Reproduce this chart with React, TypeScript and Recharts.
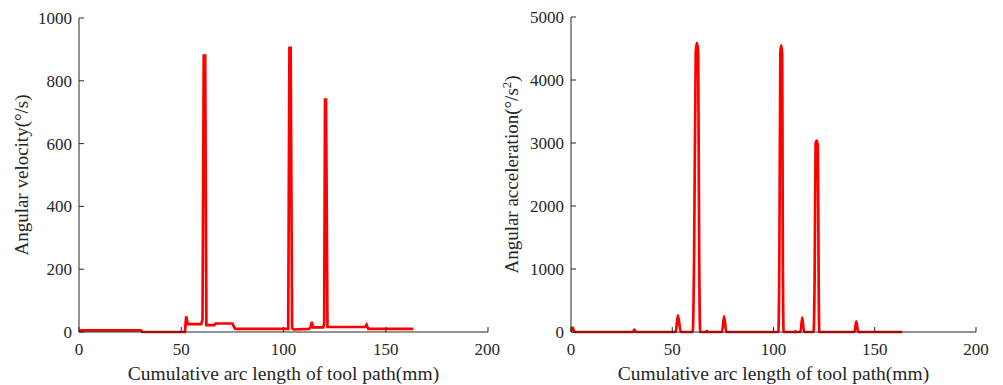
import React from "react";
import { LineChart, Line, XAxis, YAxis, Label } from "recharts";

const xTicks = [0, 50, 100, 150, 200];
const velTicks = [0, 200, 400, 600, 800, 1000];
const accTicks = [0, 1000, 2000, 3000, 4000, 5000];

const velArc = [0, 0.6, 30.2, 31.0, 51.8, 52.4, 53.2, 59.8, 60.4, 61.0, 61.7, 62.3, 66.2, 66.7, 75.0, 76.4, 102.3, 102.9, 103.5, 104.2, 104.9, 112.5, 113.2, 113.8, 114.5, 119.4, 119.9, 120.3, 120.8, 121.5, 140.0, 140.6, 141.5, 163.5];
const velValues = [2, 5, 5, 0, 0, 50, 25, 25, 40, 880, 880, 22, 22, 27, 27, 10, 10, 905, 905, 12, 8, 10, 14, 32, 15, 15, 25, 740, 740, 16, 16, 23, 10, 10];

const accArc = [0, 0.8, 1.8, 30.6, 31.3, 32.0, 51.7, 52.8, 54.2, 60.1, 60.8, 61.6, 62.2, 62.8, 63.3, 63.8, 66.8, 67.1, 67.4, 74.6, 75.6, 76.7, 102.4, 102.9, 103.4, 103.8, 104.3, 104.6, 105.0, 110.5, 110.8, 111.1, 113.3, 114.2, 115.1, 119.8, 120.3, 120.8, 121.4, 121.9, 122.3, 122.6, 140.0, 140.9, 141.8, 163.6];
const accValues = [20, 70, 0, 0, 40, 0, 0, 265, 0, 0, 1200, 4450, 4590, 4450, 1200, 0, 0, 20, 0, 0, 250, 0, 0, 1200, 4450, 4550, 4400, 1200, 0, 0, 10, 0, 0, 230, 0, 0, 800, 3000, 3040, 2950, 800, 0, 0, 170, 0, 0];

const velData = velArc.map((x, i) => ({ x, y: velValues[i] }));
const accData = accArc.map((x, i) => ({ x, y: accValues[i] }));

const FONT = "Liberation Serif";
const INK = "#262626";
const tickStyle = { fill: INK, fontSize: 17, fontFamily: FONT, style: { fontFamily: FONT } };

const XTitle = (props: any) => {
  const vb = props.viewBox;
  return (
    <text x={vb.x + vb.width / 2} y={380} textAnchor="middle" fill={INK} fontSize={19.5} fontFamily={FONT} style={{ fontFamily: FONT }}>
      Cumulative arc length of tool path(mm)
    </text>
  );
};

const makeYTitle = (bx: number, sup: boolean, text: string) => (props: any) => {
  const vb = props.viewBox;
  const cy = vb.y + vb.height / 2;
  return (
    <text transform={`translate(${bx},${cy}) rotate(-90)`} textAnchor="middle" fill={INK} fontSize={19} fontFamily={FONT} style={{ fontFamily: FONT }}>
      {text}
      {sup ? <tspan dy={-7} fontSize={13}>2</tspan> : null}
      {sup ? <tspan dy={7}>)</tspan> : null}
    </text>
  );
};

function Panel(props: { data: any[]; yTicks: number[]; yMax: number; margin: any; titleX: number; title: string; sup: boolean }) {
  const { data, yTicks, yMax, margin, titleX, title, sup } = props;
  return (
    <LineChart width={margin.w} height={385} data={data} style={{ fontFamily: FONT }} margin={{ top: margin.top, right: margin.right, bottom: margin.bottom, left: margin.left }}>
      <XAxis
        xAxisId="b"
        dataKey="x"
        type="number"
        domain={[0, 200]}
        ticks={xTicks}
        allowDataOverflow
        orientation="bottom"
        height={30}
        tickSize={-5}
        tickMargin={16}
        stroke={INK}
        tick={tickStyle}
        tickLine={{ stroke: INK }}
        axisLine={{ stroke: INK }}
      >
        <Label content={<XTitle />} />
      </XAxis>
      <XAxis
        xAxisId="t"
        dataKey="x"
        type="number"
        domain={[0, 200]}
        ticks={xTicks}
        orientation="top"
        height={0}
        tickSize={-5}
        tick={false}
        stroke={INK}
        tickLine={{ stroke: INK }}
        axisLine={{ stroke: INK }}
      />
      <YAxis
        yAxisId="l"
        type="number"
        domain={[0, yMax]}
        ticks={yTicks}
        orientation="left"
        width={60}
        tickSize={-5}
        tickMargin={12}
        stroke={INK}
        tick={tickStyle}
        tickLine={{ stroke: INK }}
        axisLine={{ stroke: INK }}
      >
        <Label content={makeYTitle(titleX, sup, title)} />
      </YAxis>
      <YAxis
        yAxisId="r"
        type="number"
        domain={[0, yMax]}
        ticks={yTicks}
        orientation="right"
        width={0}
        tickSize={-5}
        tick={false}
        stroke={INK}
        tickLine={{ stroke: INK }}
        axisLine={{ stroke: INK }}
      />
      <Line
        xAxisId="b"
        yAxisId="l"
        dataKey="y"
        type={sup ? "monotone" : "linear"}
        stroke="#ff0000"
        strokeWidth={2.7}
        dot={false}
        activeDot={false}
        isAnimationActive={false}
      />
    </LineChart>
  );
}

export default function App() {
  return (
    <div style={{ position: "fixed", left: 0, top: 0, width: 1003, height: 385, background: "#fff", fontFamily: FONT }}>
      <div style={{ position: "absolute", left: 0, top: 0 }}>
        <Panel
          data={velData}
          yTicks={velTicks}
          yMax={1000}
          margin={{ w: 500, top: 18, right: 12, bottom: 23, left: 19 }}
          titleX={28}
          title="Angular velocity(°/s)"
          sup={false}
        />
      </div>
      <div style={{ position: "absolute", left: 500, top: 0 }}>
        <Panel
          data={accData}
          yTicks={accTicks}
          yMax={5000}
          margin={{ w: 503, top: 17, right: 27, bottom: 23, left: 11 }}
          titleX={18}
          title="Angular acceleration(°/s"
          sup={true}
        />
      </div>
    </div>
  );
}
